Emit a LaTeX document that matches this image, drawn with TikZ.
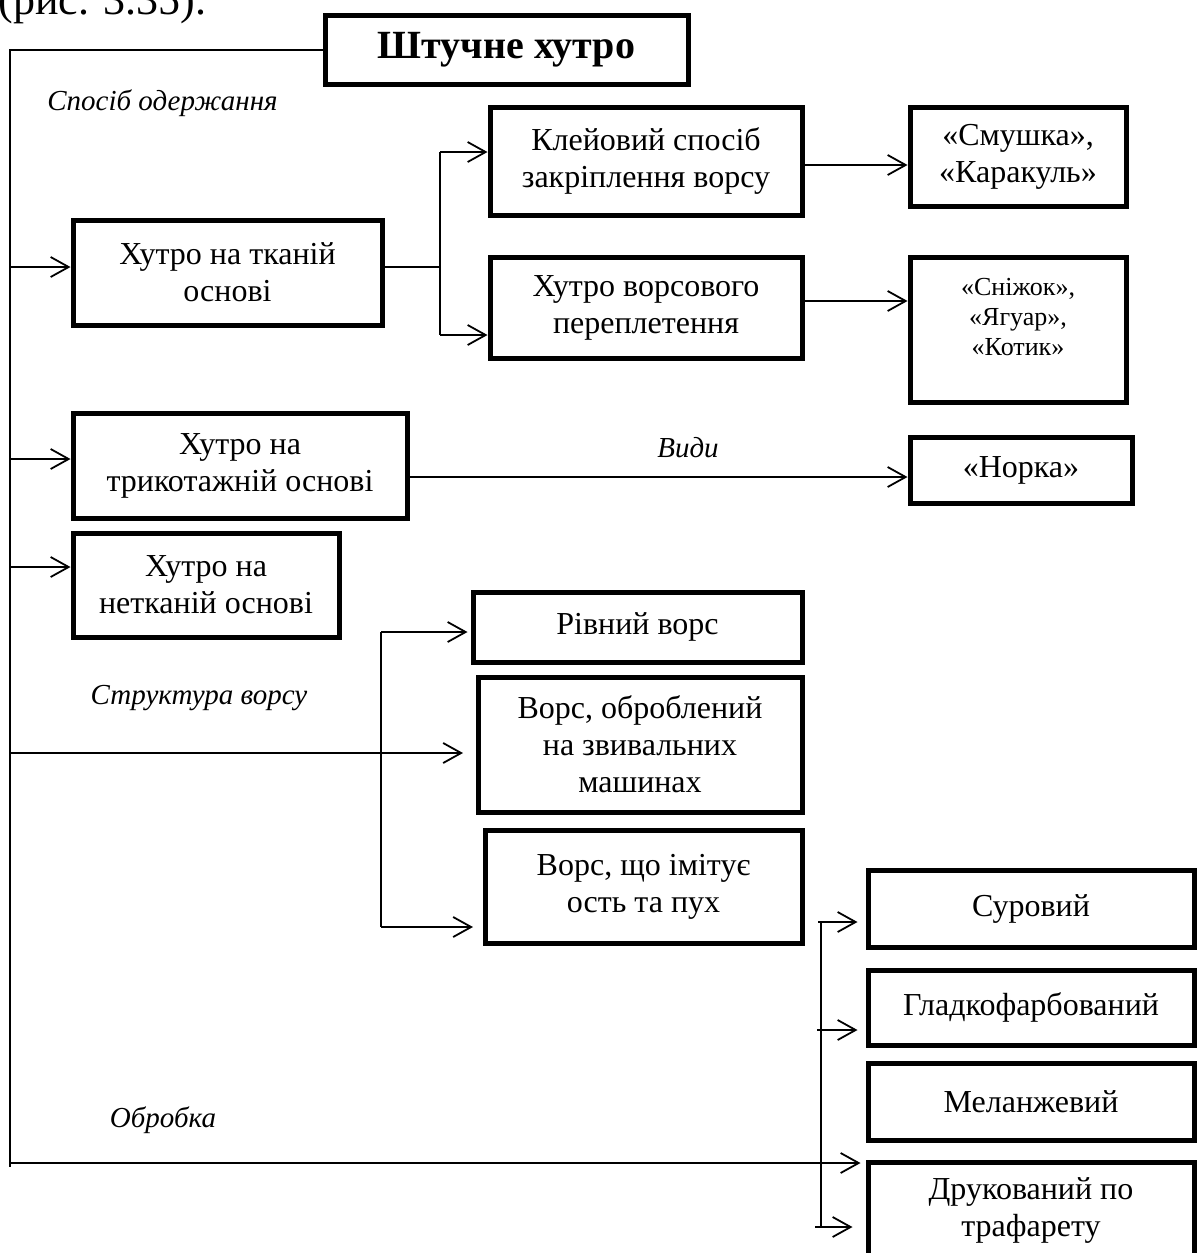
\documentclass[tikz,border=0pt]{standalone}
\usepackage{fontspec}
\setmainfont{Liberation Serif}
\usetikzlibrary{arrows.meta}
\tikzset{
  box/.style={draw, line width=2.5pt, inner sep=0pt, align=center, font=\fontsize{16pt}{18.5pt}\selectfont},
  conn/.style={line width=0.9pt},
  arr/.style={conn, -{Straight Barb[length=9pt,width=10pt,line width=0.9pt]}},
  lbl/.style={font=\fontsize{14.5pt}{16.5pt}\selectfont\itshape, inner sep=0pt},
}
\begin{document}
\begin{tikzpicture}[x=0.5pt,y=-0.5pt]
\useasboundingbox (0,0) rectangle (1196,1253);
\node[anchor=base west, inner sep=0pt, font=\fontsize{22pt}{26pt}\selectfont] (fig) at (-2,14) {(рис. 3.35).};

% boxes
\node[box, font=\fontsize{20pt}{24pt}\selectfont\bfseries, minimum width=181.5pt, minimum height=34.5pt] (title) at (506.5,50) {Штучне хутро};
\node[box, minimum width=154.5pt, minimum height=52.5pt] (tkan) at (227.5,272.5) {Хутро на тканій\\основі};
\node[box, minimum width=156pt, minimum height=54pt] (klei) at (646,161) {Клейовий спосіб\\закріплення ворсу};
\node[box, minimum width=156pt, minimum height=50.5pt] (vors) at (646,307.5) {Хутро ворсового\\переплетення};
\node[box, minimum width=108pt, minimum height=49.5pt] (smush) at (1018,156.5) {«Смушка»,\\«Каракуль»};
\node[box, font=\fontsize{13pt}{15pt}\selectfont, minimum width=108pt, minimum height=72.5pt] (snizh) at (1018,329.5) {«Сніжок»,\\«Ягуар»,\\«Котик»\\[-2pt]\mbox{}};
\node[box, minimum width=167pt, minimum height=52.5pt] (tryk) at (240,465.5) {Хутро на\\трикотажній основі};
\node[box, minimum width=111pt, minimum height=33pt] (norka) at (1021,470) {«Норка»};
\node[box, minimum width=133pt, minimum height=52pt] (netk) at (206,585) {Хутро на\\нетканій основі};
\node[box, minimum width=164.5pt, minimum height=35pt] (rivn) at (637.5,627) {Рівний ворс};
\node[box, minimum width=162pt, minimum height=67.5pt] (zviv) at (640,744.5) {Ворс, оброблений\\на звивальних\\машинах};
\node[box, minimum width=158.5pt, minimum height=56.5pt] (imit) at (643.5,886.5) {Ворс, що імітує\\ость та пух};
\node[box, minimum width=163pt, minimum height=38.5pt] (surov) at (1031,908.5) {Суровий};
\node[box, minimum width=163pt, minimum height=37.5pt] (gladk) at (1031,1007.5) {Гладкофарбований};
\node[box, minimum width=163pt, minimum height=38.5pt] (melan) at (1031,1101.5) {Меланжевий};
\node[box, minimum width=163pt, minimum height=56.5pt] (druk) at (1031,1218.5) {Друкований по\\трафарету\\[-7.5pt]\mbox{}};

% labels
\node[lbl] (l1) at (162.5,103) {Спосіб одержання};
\node[lbl] (l2) at (688,448) {Види};
\node[lbl] (l3) at (199,698) {Структура ворсу};
\node[lbl] (l4) at (163,1120) {Обробка};

% trunk
\coordinate (tbot) at (10,1167);
\draw[conn] (title.west) -| (tbot);
\draw[arr] ([yshift=2.75pt]tkan.west -| tbot) -- ([yshift=2.75pt]tkan.west);
\draw[arr] ([yshift=3.25pt]tryk.west -| tbot) -- ([yshift=3.25pt]tryk.west);
\draw[arr] ([yshift=9pt]netk.west -| tbot) -- ([yshift=9pt]netk.west);

% woven branch
\coordinate (k0) at (440,267);
\coordinate (k1) at (440,152);
\coordinate (k2) at (440,335);
\draw[conn] ([yshift=2.75pt]tkan.east) -- (k0);
\draw[conn] (k1) -- (k2);
\draw[arr] (k1) -- (k1 -| klei.west);
\draw[arr] (k2) -- (k2 -| vors.west);
\draw[arr] ([yshift=-2pt]klei.east) -- ([yshift=-2pt]klei.east -| smush.west);
\draw[arr] ([yshift=3.25pt]vors.east) -- ([yshift=3.25pt]vors.east -| snizh.west);
\draw[arr] ([yshift=-5.75pt]tryk.east) -- ([yshift=-5.75pt]tryk.east -| norka.west);

% structure branch
\coordinate (s3) at (463,753);
\coordinate (b1) at (381,632);
\coordinate (b2) at (381,927);
\coordinate (b2e) at (473,927);
\draw[arr] (s3 -| tbot) -- (s3);
\draw[conn] (b1) -- (b2);
\draw[arr] (b1) -- ([xshift=-1.5pt]b1 -| rivn.west);
\draw[arr] (b2) -- (b2e);

% processing branch
\coordinate (c1) at (821,922);
\coordinate (c2) at (821,1227);
\coordinate (c3) at (821,1030);
\coordinate (o1) at (10,1163);
\draw[conn] (c1) -- (c2);
\draw[arr] ([xshift=-1.5pt]c1) -- ([xshift=-4pt]c1 -| surov.west);
\draw[arr] ([xshift=-2pt]c3) -- ([xshift=-4pt]c3 -| gladk.west);
\draw[arr] ([xshift=-3pt]c2) -- ([xshift=-6.5pt]c2 -| druk.west);
\draw[arr] (o1) -- ([xshift=-2.5pt]o1 -| druk.west);
\end{tikzpicture}
\end{document}
